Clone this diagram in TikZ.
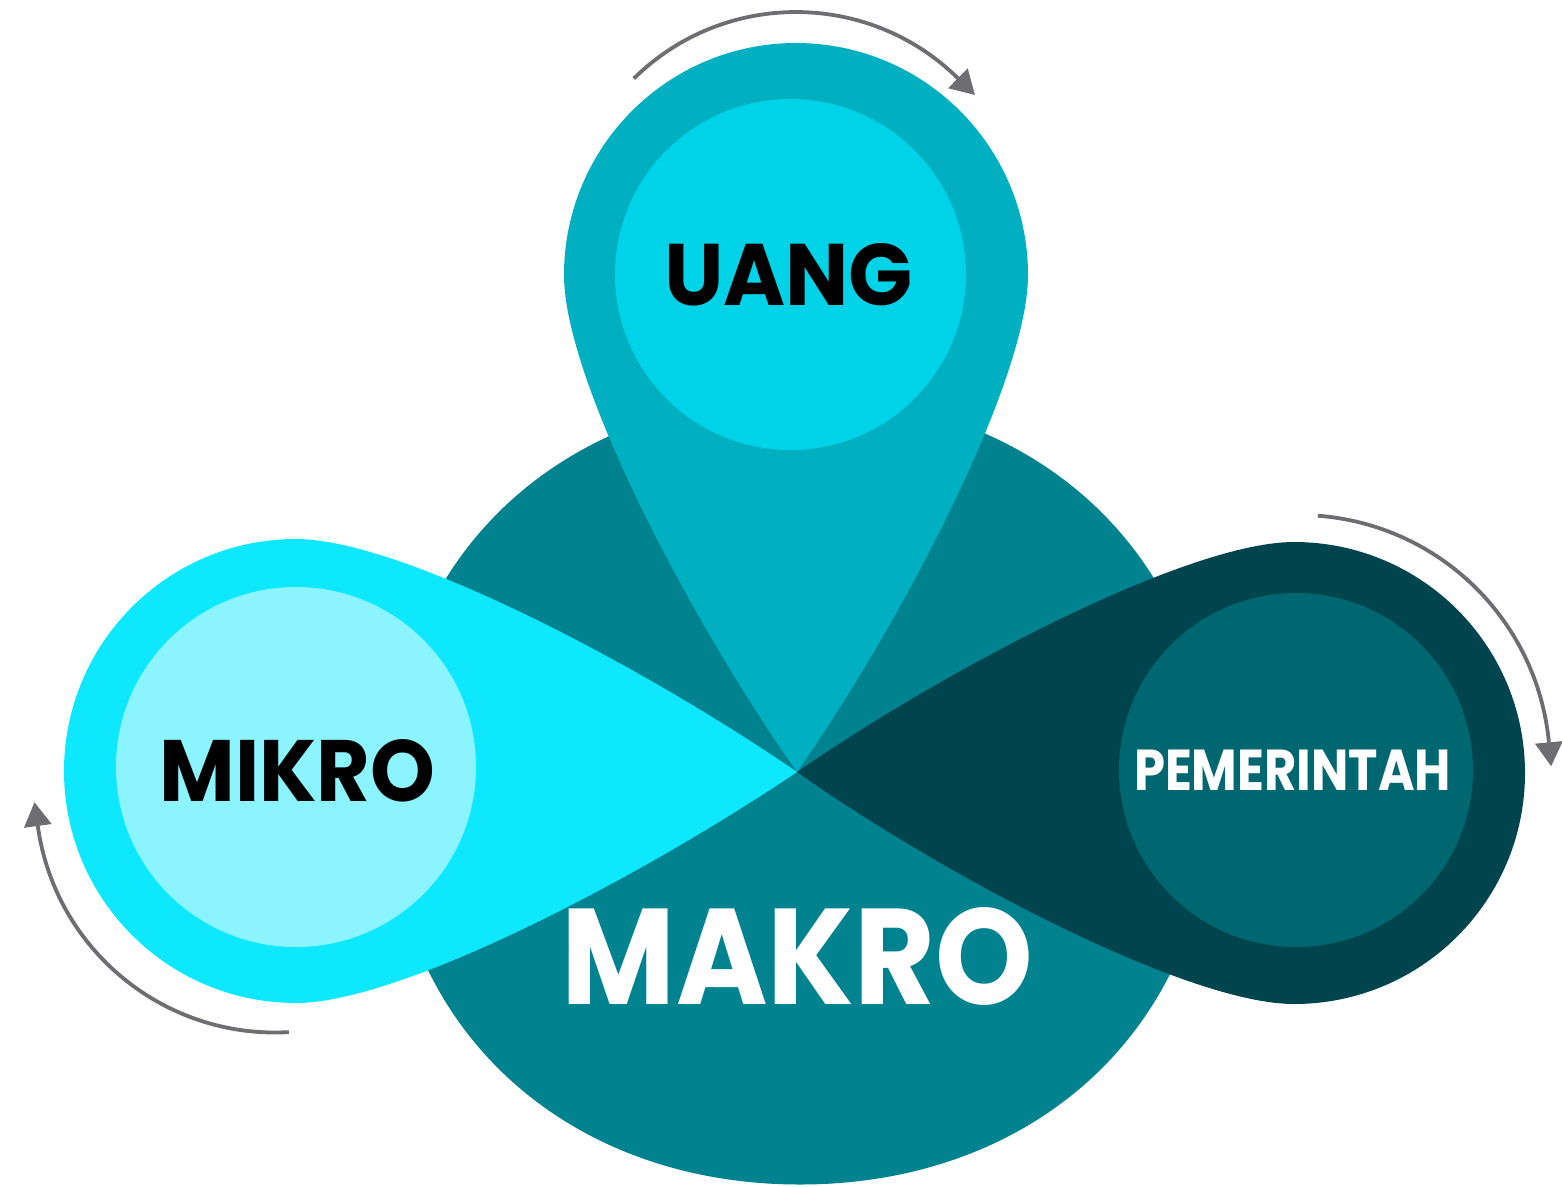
\documentclass[tikz,border=0pt]{standalone}
\usepackage{fontspec}
\setmainfont{Poppins}
\usepackage{graphicx}
\usetikzlibrary{arrows.meta}
\definecolor{makroC}{HTML}{00838F}
\definecolor{uangOut}{HTML}{00AFC0}
\definecolor{uangIn}{HTML}{00D3E8}
\definecolor{mikroOut}{HTML}{0EE8FF}
\definecolor{mikroIn}{HTML}{8BF4FF}
\definecolor{pemOut}{HTML}{00444D}
\definecolor{pemIn}{HTML}{00666F}
\definecolor{arrowC}{HTML}{6E6E72}
\tikzset{
  lbl/.style={inner sep=0pt, outer sep=0pt, font=\bfseries\fontsize{60}{60}\selectfont},
  cycline/.style={draw=arrowC, line width=3.8pt},
  cyctip/.style={draw=arrowC, line width=3.8pt, -{Triangle[length=24pt,width=27pt]}},
}
\begin{document}
\begin{tikzpicture}[x=1pt,y=1pt]
\useasboundingbox (0,0) rectangle (1562,-1186);
% big MAKRO disc
\fill[makroC] (1212,-790.5) .. controls (1212,-1020.6) and (1040.6,-1184.5) .. (800,-1184.5)
  .. controls (559.4,-1184.5) and (388,-1020.6) .. (388,-790.5)
  .. controls (388,-560.4) and (559.4,-396.5) .. (800,-396.5)
  .. controls (1040.6,-396.5) and (1212,-560.4) .. (1212,-790.5) -- cycle;
\coordinate (tip) at (797,-772);
% UANG drop
\fill[uangOut] (tip) .. controls (690,-620) and (564,-380) .. (564,-275)
  arc[start angle=180, end angle=0, radius=232]
  .. controls (1028,-380) and (903,-620) .. (tip) -- cycle;
% MIKRO drop
\fill[mikroOut] (tip) .. controls (641,-665) and (401,-539) .. (296,-539)
  arc[start angle=90, end angle=270, radius=232]
  .. controls (401,-1003) and (641,-877) .. (tip) -- cycle;
% PEMERINTAH drop
\fill[pemOut] (tip) .. controls (949,-667) and (1189,-542) .. (1294,-542)
  arc[start angle=90, end angle=-90, radius=231]
  .. controls (1189,-1004) and (949,-879) .. (tip) -- cycle;
% inner discs
\fill[uangIn] (790.5,-274.5) circle[radius=175.5];
\fill[mikroIn] (296,-767) circle[radius=180];
\fill[pemIn] (1296,-770) circle[radius=177];
% labels
\node[lbl, text=black] (uang) at (788.5,-274.5) {\resizebox{249pt}{62pt}{UANG}};
\node[lbl, text=black] (mikro) at (297.5,-770.7) {\resizebox{276pt}{62pt}{MIKRO}};
\node[lbl, text=white] (pemerintah) at (1292.5,-770.3) {\resizebox{317pt}{40.5pt}{PEMERINTAH}};
\node[lbl, text=white] (makro) at (797.5,-956) {\resizebox{471pt}{97pt}{MAKRO}};
% cycle arrows
\path (796,-243) ++(134.6:231) coordinate (topA);
\draw[cycline] (topA) arc[start angle=134.6, end angle=45.5, radius=231] coordinate (topB);
\draw[cyctip] (topB) -- ++(-44.5:24);
\path (1299,-766) ++(85.7:251) coordinate (rightA);
\draw[cycline] (rightA) arc[start angle=85.7, end angle=5.4, radius=251] coordinate (rightB);
\draw[cyctip] (rightB) -- ++(-84.6:24);
\path (275,-793) ++(-86.7:239.5) coordinate (leftA);
\draw[cycline] (leftA) arc[start angle=-86.7, end angle=-172.1, radius=239.5] coordinate (leftB);
\draw[cyctip] (leftB) -- ++(97.9:24);
\end{tikzpicture}
\end{document}
